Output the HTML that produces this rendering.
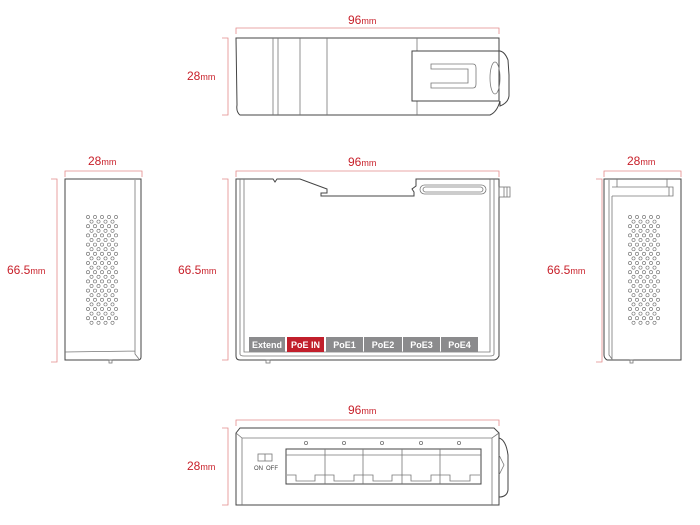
<!DOCTYPE html>
<html><head><meta charset="utf-8"><style>
html,body{margin:0;padding:0;background:#fff;}
svg{display:block;font-family:"Liberation Sans",sans-serif;}
.b{fill:none;stroke:#444;stroke-width:1;}
.l{fill:none;stroke:#777;stroke-width:0.8;}
.d{fill:none;stroke:#e38a8a;stroke-width:0.8;}
.t{fill:#c8202a;font-size:12px;}
.lab{fill:#fff;font-size:9px;font-weight:bold;text-anchor:middle;}
.hc circle{fill:none;stroke:#666;stroke-width:0.6;}
</style></head><body>
<svg width="700" height="525" viewBox="0 0 700 525" xmlns="http://www.w3.org/2000/svg">
<defs>
<g id="rp" class="hc">
<circle cx="0" cy="0" r="1.6"/><circle cx="7" cy="0" r="1.6"/><circle cx="14" cy="0" r="1.6"/><circle cx="21" cy="0" r="1.6"/><circle cx="28" cy="0" r="1.6"/>
<circle cx="3.5" cy="4.6" r="1.6"/><circle cx="10.5" cy="4.6" r="1.6"/><circle cx="17.5" cy="4.6" r="1.6"/><circle cx="24.5" cy="4.6" r="1.6"/>
</g>
<g id="grid">
<use href="#rp" y="0"/><use href="#rp" y="9.2"/><use href="#rp" y="18.4"/><use href="#rp" y="27.6"/>
<use href="#rp" y="36.8"/><use href="#rp" y="46"/><use href="#rp" y="55.2"/><use href="#rp" y="64.4"/>
<use href="#rp" y="73.6"/><use href="#rp" y="82.8"/><use href="#rp" y="92"/><use href="#rp" y="101.2"/>
</g>
</defs>

<!-- TOP VIEW -->
<path class="d" d="M236 34V28H499V34M222 38H228V115H222"/>
<text class="t" x="348" y="24">96<tspan font-size="9">mm</tspan></text>
<text class="t" x="187" y="80">28<tspan font-size="9">mm</tspan></text>
<path class="b" d="M236 38H499V51H500Q505 52 508 60L509 75V96Q508 103 500 106V101Q497 112 490 115H240Q236 112 237 105Z"/>
<path class="l" d="M273 38V115M278 38V115M300 38V115M327 38V115M417 38V51M417 101V115"/>
<path class="b" d="M412 51H499V101H412Z"/>
<path class="l" d="M431 64H473Q476 64 476 68V84Q476 88 473 88H431V83H468V69H431Z"/>
<ellipse class="l" cx="495" cy="78" rx="5" ry="16"/>

<!-- FRONT VIEW -->
<path class="d" d="M236 177V171H499V177M222 179H228V360H222"/>
<text class="t" x="348" y="166">96<tspan font-size="9">mm</tspan></text>
<text class="t" x="178" y="274">66.5<tspan font-size="9">mm</tspan></text>
<path class="b" d="M236 179H273L275 182L277 179H300L327 189V193H321V196H414V192L412 189L416 186V179H499V356Q497 360 494 360H240Q236 360 236 356Z"/>
<path class="l" d="M240 179V354Q240 356 244 356H490Q494 356 494 354V179M244 179V352H490V179"/>
<rect class="l" x="420" y="185" width="66" height="9" rx="4.5"/>
<rect class="l" x="423" y="187" width="60" height="5" rx="2.5"/>
<rect class="l" x="499" y="187" width="11" height="10"/>
<path class="l" d="M504 187V197M507 187V197"/>
<rect class="l" x="266" y="360" width="4" height="3"/>
<rect x="249" y="337" width="36" height="15" fill="#8b8b8d"/>
<rect x="287" y="337" width="37" height="15" fill="#c11f2b"/>
<rect x="326" y="337" width="37" height="15" fill="#8b8b8d"/>
<rect x="364" y="337" width="38" height="15" fill="#8b8b8d"/>
<rect x="403" y="337" width="37" height="15" fill="#8b8b8d"/>
<rect x="441" y="337" width="37" height="15" fill="#8b8b8d"/>
<text class="lab" x="267" y="348">Extend</text>
<text class="lab" x="305.5" y="348">PoE IN</text>
<text class="lab" x="344.5" y="348">PoE1</text>
<text class="lab" x="383" y="348">PoE2</text>
<text class="lab" x="421.5" y="348">PoE3</text>
<text class="lab" x="459.5" y="348">PoE4</text>

<!-- LEFT VIEW -->
<path class="d" d="M65 177V171H142V177M51 179H57V362H51"/>
<text class="t" x="88" y="165">28<tspan font-size="9">mm</tspan></text>
<text class="t" x="7" y="274">66.5<tspan font-size="9">mm</tspan></text>
<path class="b" d="M65 179H141V357Q141 360 138 360H65Z"/>
<path class="l" d="M135 180V354L139 359M65 352L135 351"/>
<rect class="l" x="109" y="360" width="3" height="3"/>
<use href="#grid" x="88" y="217"/>

<!-- RIGHT VIEW -->
<path class="d" d="M604 177V171H681V177M596 179H602V362H596"/>
<text class="t" x="627" y="165">28<tspan font-size="9">mm</tspan></text>
<text class="t" x="547" y="274">66.5<tspan font-size="9">mm</tspan></text>
<path class="b" d="M604 179H681V360H607Q604 358 604 355Z"/>
<path class="l" d="M609 180V355L612 359M612 196V360M612 187H673V196H612M617 179V187M667 179V187M669 187V196"/>
<rect class="l" x="630" y="360" width="3" height="3"/>
<use href="#grid" x="630" y="217"/>

<!-- BOTTOM VIEW -->
<path class="d" d="M236 426V420H499V426M222 428H228V505H222"/>
<text class="t" x="348" y="414">96<tspan font-size="9">mm</tspan></text>
<text class="t" x="187" y="470">28<tspan font-size="9">mm</tspan></text>
<path class="b" d="M240 428H494L499 433V505H236V433Z"/>
<path class="l" d="M236 433L242 438H492L499 433M242 438V505M492 438V505"/>
<path class="b" d="M499 438Q506 440 508 455V490Q507 497 499 497"/>
<path class="l" d="M499 455L504 465L499 475"/>
<rect class="l" x="258" y="454" width="14" height="7"/>
<path class="l" d="M265 454V461"/>
<text x="254" y="470" font-size="6" fill="#444">ON</text>
<text x="266" y="470" font-size="6" fill="#444">OFF</text>
<rect class="b" x="286" y="449" width="195" height="35"/>
<g class="l">
<path d="M325 449V484M363 449V484M402 449V484M440 449V484"/>
<path d="M286 455H481"/>
<path d="M287 475H296V481H315V475H334V481H354V475H373V481H392V475H411V481H431V475H450V481H470V475H480"/>
<circle cx="306" cy="443" r="1.6"/><circle cx="344" cy="443" r="1.6"/><circle cx="382" cy="443" r="1.6"/><circle cx="421" cy="443" r="1.6"/><circle cx="459" cy="443" r="1.6"/>
</g>
</svg>
</body></html>
